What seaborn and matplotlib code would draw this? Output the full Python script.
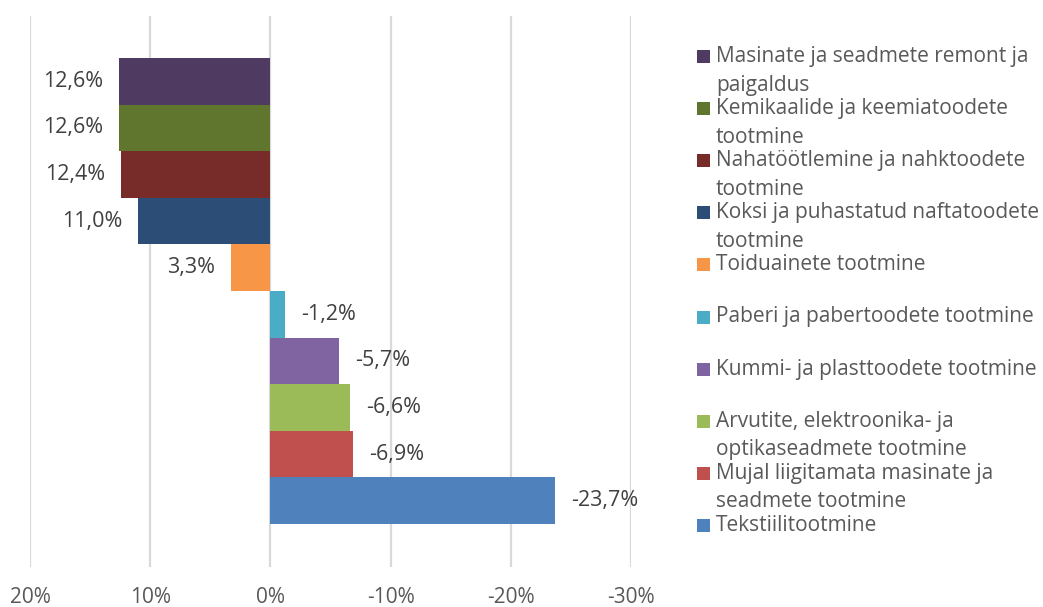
import textwrap
import matplotlib
matplotlib.use("Agg")
import matplotlib.pyplot as plt
from matplotlib.patches import Rectangle
import seaborn as sns
import pandas as pd

categories = [
    "Masinate ja seadmete remont ja paigaldus",
    "Kemikaalide ja keemiatoodete tootmine",
    "Nahatöötlemine ja nahktoodete tootmine",
    "Koksi ja puhastatud naftatoodete tootmine",
    "Toiduainete tootmine",
    "Paberi ja pabertoodete tootmine",
    "Kummi- ja plasttoodete tootmine",
    "Arvutite, elektroonika- ja optikaseadmete tootmine",
    "Mujal liigitamata masinate ja seadmete tootmine",
    "Tekstiilitootmine",
]
values = [12.6, 12.6, 12.4, 11.0, 3.3, -1.2, -5.7, -6.6, -6.9, -23.7]
colors = ["#4F3B62", "#60762F", "#772C2A", "#2C4D75", "#F79646",
          "#4BACC6", "#8064A2", "#9BBB59", "#C0504D", "#4F81BD"]
x_ticks = [20, 10, 0, -10, -20, -30]

sns.set_theme(style="white")
plt.rcParams["font.family"] = ["Open Sans", "DejaVu Sans"]
plt.rcParams["axes.unicode_minus"] = False

df = pd.DataFrame({"category": categories, "value": values})

W, H = 1043, 607
fig = plt.figure(figsize=(W / 100, H / 100), dpi=100)
ax = fig.add_axes([30 / W, (H - 567) / H, (631 - 30) / W, (567 - 16) / H])

sns.barplot(data=df, x="value", y="category", hue="category",
            palette=colors, hue_order=categories, order=categories,
            width=1.0, saturation=1, legend=False, ax=ax, orient="h",
            linewidth=0, edgecolor="none")

ax.set_xlim(20, -30)
ax.set_ylim(10.42, -1.4)
ax.set_xticks(x_ticks)
ax.set_xticklabels([f"{t}%" for t in x_ticks], color="#595959", fontsize=15)
ax.tick_params(axis="x", length=0, pad=14.5)
ax.set_yticks([])
ax.set_xlabel("")
ax.set_ylabel("")
for s in ax.spines.values():
    s.set_visible(False)
ax.xaxis.grid(True, color="#D9D9D9", linewidth=1.6)
ax.set_axisbelow(True)

# data labels
for i, v in enumerate(values):
    txt = f"{v:.1f}%".replace(".", ",")
    off = 16 * 0.72
    if v >= 0:
        ax.annotate(txt, (v, i), xytext=(-off, 0), textcoords="offset points",
                    ha="right", va="center", fontsize=15.5, color="#404040")
    else:
        ax.annotate(txt, (v, i), xytext=(off, 0), textcoords="offset points",
                    ha="left", va="center", fontsize=15.5, color="#404040")

# legend (manual, Excel-like wrapping)
y0 = 56.5
step = 52.1
line = 28.5
for i, (cat, col) in enumerate(zip(categories, colors)):
    yc = y0 + i * step
    fig.add_artist(Rectangle((697 / W, 1 - (yc + 6.5) / H), 13 / W, 13 / H,
                             transform=fig.transFigure, facecolor=col,
                             edgecolor="none"))
    for k, ln in enumerate(textwrap.wrap(cat, 32)):
        fig.text(716 / W, 1 - (yc + k * line) / H, ln, ha="left",
                 va="center", fontsize=15, color="#595959")

fig.savefig("out.png", dpi=100)
